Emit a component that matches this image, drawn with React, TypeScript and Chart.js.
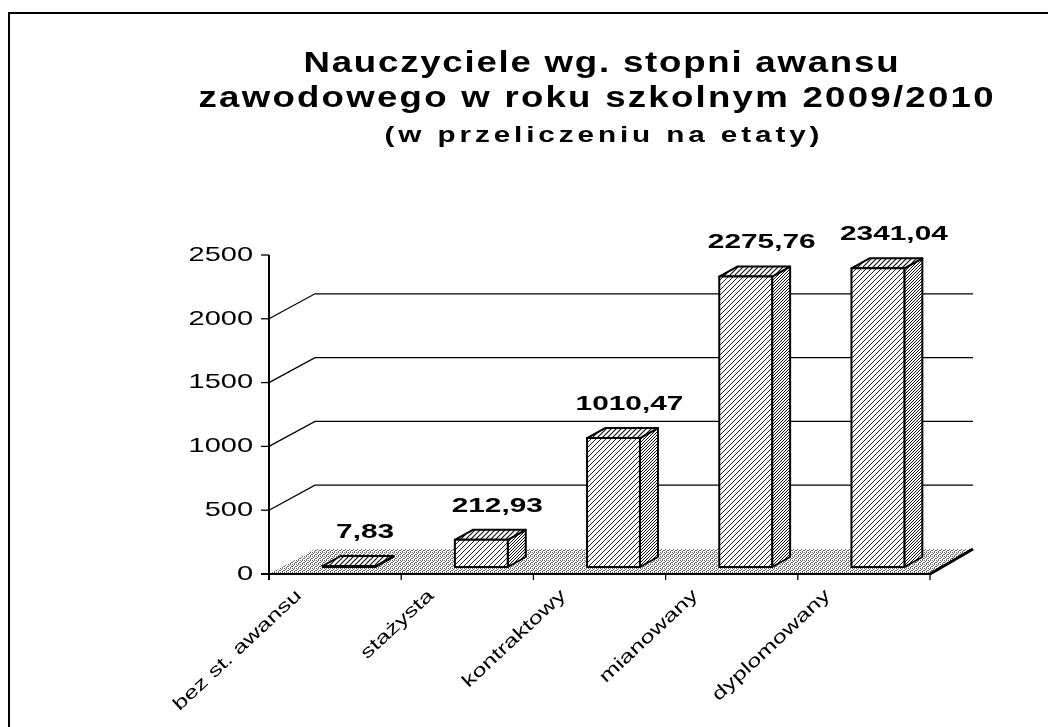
import React, { useEffect, useRef } from "react";
import { Chart, registerables } from "chart.js";

Chart.register(...registerables);

const categories = ["bez st. awansu", "stażysta", "kontraktowy", "mianowany", "dyplomowany"];
const values = [7.83, 212.93, 1010.47, 2275.76, 2341.04];
const yTicks = [0, 500, 1000, 1500, 2000, 2500];
const titleLines = ["Nauczyciele wg. stopni awansu", "zawodowego w roku szkolnym 2009/2010"];
const subtitleText = "(w przeliczeniu na etaty)";

const W = 1048;
const H = 727;
// 3D geometry
const WALL_DX = 46;
const WALL_DY = -25;
const BAR_SX = 14;
const BAR_SY = -7;
const BAR_DX = 18;
const BAR_DY = -10;
const FONT = "'Liberation Sans', Arial, sans-serif";

function fmt(v: number) {
  return v.toFixed(2).replace(".", ",");
}

function makeHatch(ctx: CanvasRenderingContext2D, period: number, lw: number, color: string) {
  const c = document.createElement("canvas");
  c.width = period;
  c.height = period;
  const g = c.getContext("2d")!;
  g.fillStyle = "#fff";
  g.fillRect(0, 0, period, period);
  g.strokeStyle = color;
  g.lineWidth = lw;
  g.beginPath();
  g.moveTo(0, period);
  g.lineTo(period, 0);
  g.moveTo(-2, 2);
  g.lineTo(2, -2);
  g.moveTo(period - 2, period + 2);
  g.lineTo(period + 2, period - 2);
  g.stroke();
  return ctx.createPattern(c, "repeat")!;
}

function makeDots(ctx: CanvasRenderingContext2D) {
  const c = document.createElement("canvas");
  c.width = 4;
  c.height = 4;
  const g = c.getContext("2d")!;
  g.fillStyle = "#fff";
  g.fillRect(0, 0, 4, 4);
  g.fillStyle = "#666";
  const pts = [[0, 0], [2, 0], [1, 1], [3, 2], [0, 2], [2, 3]];
  pts.forEach(([x, y]) => g.fillRect(x, y, 1, 1));
  return ctx.createPattern(c, "repeat")!;
}

function stretchText(
  ctx: CanvasRenderingContext2D,
  text: string,
  x: number,
  y: number,
  font: string,
  sx: number,
  align: CanvasTextAlign,
  baseline: CanvasTextBaseline = "alphabetic"
) {
  ctx.save();
  ctx.font = font;
  ctx.translate(x, y);
  ctx.scale(sx, 1);
  ctx.textAlign = align;
  ctx.textBaseline = baseline;
  ctx.fillStyle = "#000";
  ctx.fillText(text, 0, 0);
  ctx.restore();
}

// spaced title text: horizontal stretch plus letter spacing to reach the target width
function spacedText(ctx: CanvasRenderingContext2D, text: string, cx: number, y: number, font: string, width: number, sx: number) {
  ctx.save();
  ctx.font = font;
  (ctx as any).letterSpacing = "0px";
  const w = ctx.measureText(text).width;
  const ls = Math.max(0, (width / sx - w) / (text.length - 1));
  (ctx as any).letterSpacing = `${ls}px`;
  const w2 = w + ls * (text.length - 1);
  ctx.translate(cx - (w2 * sx) / 2, y);
  ctx.scale(sx, 1);
  ctx.textAlign = "left";
  ctx.textBaseline = "alphabetic";
  ctx.fillStyle = "#000";
  ctx.fillText(text, 0, 0);
  ctx.restore();
}

const chart3d = {
  id: "chart3d",
  afterDraw(chart: any) {
    const ctx: CanvasRenderingContext2D = chart.ctx;
    const xs = chart.scales.x;
    const ys = chart.scales.y;
    const area = chart.chartArea;
    const left = area.left;
    const right = area.right;
    const y0 = ys.getPixelForValue(0);

    ctx.save();
    // frame
    ctx.strokeStyle = "#000";
    ctx.lineWidth = 2;
    ctx.beginPath();
    ctx.moveTo(9, H);
    ctx.lineTo(9, 13);
    ctx.lineTo(W, 13);
    ctx.stroke();

    // floor
    ctx.fillStyle = makeDots(ctx);
    ctx.beginPath();
    ctx.moveTo(left, y0);
    ctx.lineTo(left + WALL_DX, y0 + WALL_DY);
    ctx.lineTo(right + WALL_DX - 3, y0 + WALL_DY);
    ctx.lineTo(right, y0);
    ctx.closePath();
    ctx.fill();
    ctx.lineWidth = 3;
    ctx.beginPath();
    ctx.moveTo(right, y0);
    ctx.lineTo(right + WALL_DX - 3, y0 + WALL_DY);
    ctx.stroke();

    // back wall gridlines and side diagonals
    ctx.lineWidth = 1.3;
    yTicks.forEach((v) => {
      if (v === 0 || v === 2500) return;
      const py = ys.getPixelForValue(v);
      ctx.beginPath();
      ctx.moveTo(left, py);
      ctx.lineTo(left + WALL_DX, py + WALL_DY);
      ctx.lineTo(right + WALL_DX - 3, py + WALL_DY);
      ctx.stroke();
    });

    // axes
    ctx.lineWidth = 2;
    ctx.beginPath();
    ctx.moveTo(left, ys.getPixelForValue(2500));
    ctx.lineTo(left, y0 + 6);
    ctx.moveTo(left - 8, y0);
    ctx.lineTo(right, y0);
    ctx.stroke();
    ctx.lineWidth = 1.3;
    yTicks.forEach((v) => {
      const py = ys.getPixelForValue(v);
      ctx.beginPath();
      ctx.moveTo(left - 8, py);
      ctx.lineTo(left, py);
      ctx.stroke();
      stretchText(ctx, String(v), left - 16, py, `21px ${FONT}`, 1.38, "right", "middle");
    });
    const cw = (right - left) / categories.length;
    for (let i = 0; i <= categories.length; i++) {
      const px = left + i * cw;
      ctx.beginPath();
      ctx.moveTo(px, y0);
      ctx.lineTo(px, y0 + 6);
      ctx.stroke();
    }

    // bars
    const front = makeHatch(ctx, 5, 1, "#222");
    const side = makeHatch(ctx, 3, 1, "#111");
    const top = makeHatch(ctx, 5, 1.2, "#111");
    const meta = chart.getDatasetMeta(0);
    meta.data.forEach((el: any, i: number) => {
      const p = el.getProps(["x", "y", "base", "width"], true);
      const L = p.x + BAR_SX - p.width / 2;
      const R = L + p.width;
      const B = p.base + BAR_SY;
      let T = p.y + BAR_SY;
      if (B - T < 1) T = B - 1;
      ctx.lineWidth = 2;
      ctx.lineJoin = "round";
      ctx.strokeStyle = "#000";
      // side
      ctx.fillStyle = side;
      ctx.beginPath();
      ctx.moveTo(R, T);
      ctx.lineTo(R + BAR_DX, T + BAR_DY);
      ctx.lineTo(R + BAR_DX, B + BAR_DY);
      ctx.lineTo(R, B);
      ctx.closePath();
      ctx.fill();
      ctx.stroke();
      // top
      ctx.fillStyle = top;
      ctx.beginPath();
      ctx.moveTo(L, T);
      ctx.lineTo(L + BAR_DX, T + BAR_DY);
      ctx.lineTo(R + BAR_DX, T + BAR_DY);
      ctx.lineTo(R, T);
      ctx.closePath();
      ctx.fill();
      ctx.stroke();
      // front
      ctx.fillStyle = front;
      ctx.beginPath();
      ctx.rect(L, T, R - L, B - T);
      ctx.fill();
      ctx.stroke();
      // value label
      stretchText(ctx, fmt(values[i]), p.x + 30, T - 34, `bold 21px ${FONT}`, 1.42, "center", "middle");
    });

    // category labels
    categories.forEach((c, i) => {
      const cx = xs.getPixelForValue(i);
      ctx.save();
      ctx.translate(cx - 36, y0 + 19);
      ctx.rotate((-43 * Math.PI) / 180);
      ctx.scale(1.4, 1);
      ctx.font = `18px ${FONT}`;
      ctx.textAlign = "right";
      ctx.textBaseline = "middle";
      ctx.fillStyle = "#000";
      ctx.fillText(c, 0, 0);
      ctx.restore();
    });

    // titles
    spacedText(ctx, titleLines[0], 601, 72, `bold 30px ${FONT}`, 595, 1.22);
    spacedText(ctx, titleLines[1], 596, 107, `bold 30px ${FONT}`, 795, 1.22);
    spacedText(ctx, subtitleText, 602, 142, `bold 22px ${FONT}`, 435, 1.35);
    ctx.restore();
  },
};

export default function App() {
  const ref = useRef<HTMLCanvasElement>(null);
  useEffect(() => {
    if (!ref.current) return;
    const chart = new Chart(ref.current, {
      type: "bar",
      data: {
        labels: categories,
        datasets: [
          {
            data: values,
            backgroundColor: "rgba(0,0,0,0)",
            borderWidth: 0,
            barPercentage: 1,
            categoryPercentage: 0.4,
          },
        ],
      },
      options: {
        responsive: false,
        animation: false,
        devicePixelRatio: 1,
        layout: { padding: { left: 269, right: W - 930, top: 255, bottom: H - 574 } },
        scales: {
          x: { display: false },
          y: { display: false, min: 0, max: 2500 },
        },
        plugins: { legend: { display: false }, tooltip: { enabled: false }, title: { display: false } },
      },
      plugins: [chart3d],
    });
    return () => chart.destroy();
  }, []);
  return (
    <div style={{ position: "fixed", left: 0, top: 0, width: W, height: H, background: "#fff" }}>
      <canvas ref={ref} width={W} height={H} style={{ display: "block", width: W, height: H }} />
    </div>
  );
}
